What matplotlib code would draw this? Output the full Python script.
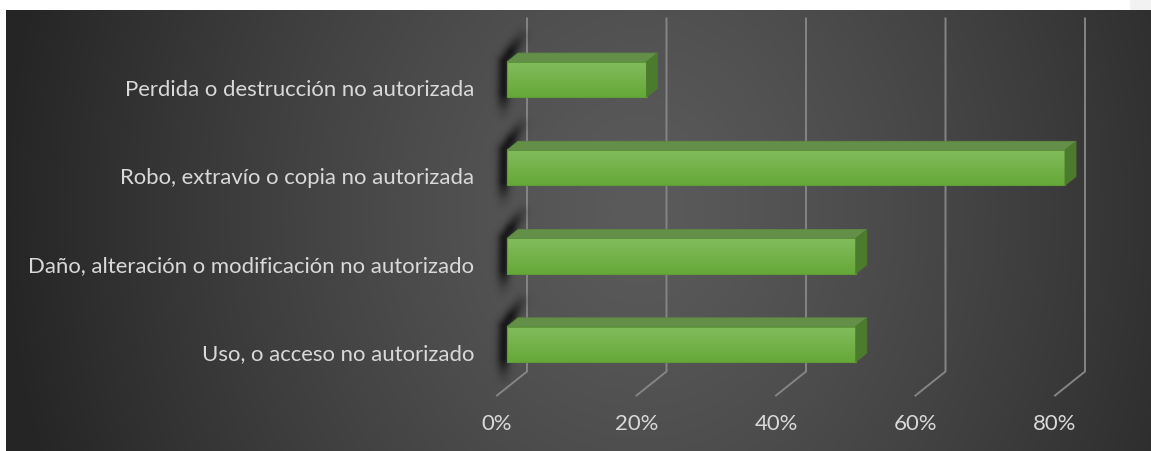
import numpy as np
import matplotlib
matplotlib.use("Agg")
import matplotlib.pyplot as plt
from matplotlib.patches import Polygon
from matplotlib.lines import Line2D
from matplotlib.transforms import IdentityTransform, ScaledTranslation

# ---------------- data ----------------
categories = [
    "Uso, o acceso no autorizado",
    "Daño, alteración o modificación no autorizado",
    "Robo, extravío o copia no autorizada",
    "Perdida o destrucción no autorizada",
]
values = [50, 50, 80, 20]
xticks = [0, 20, 40, 60, 80]
xticklabels = ["0%", "20%", "40%", "60%", "80%"]

# ---------------- layout ----------------
W, H, DPI = 1151, 451, 100
FONT = "Lato"
TEXT_COLOR = "#d9d9d9"
GRID_COLOR = "#858585"
K = 0.8            # perspective slope (display y per display x of depth)
D_BAR0, D_BAR1, D_WALL = 10, 21, 30
BAR_H = 0.4

fig = plt.figure(figsize=(W / DPI, H / DPI), dpi=DPI)
fig.patch.set_facecolor("white")

# background gradient panel
bg = fig.add_axes([0, 0, 1, 1])
bg.set_axis_off()
yy, xx = np.mgrid[0:H, 0:W] + 0.5
cx, cy, rx, ry = 640.0, 210.0, 640.0, 760.0
t = np.clip(np.sqrt(((xx - cx) / rx) ** 2 + ((yy - cy) / ry) ** 2), 0, 1)
v = (91 + (37 - 91) * t ** 1.25) / 255.0
img = np.dstack([v, v, v, np.ones_like(v)])
img[:10, :, :] = 1.0
img[:, :6, :] = 1.0
img[:10, 1130:, :3] = 0.95
bg.imshow(img, extent=[0, W, H, 0], aspect="auto", interpolation="nearest")
bg.set_xlim(0, W)
bg.set_ylim(H, 0)

# main axes (depth-0 plane)
ax_left, ax_right = 497.0, 1055.0
ax_top, ax_bot = 42.5, 395.5
ax = fig.add_axes([ax_left / W, (H - ax_bot) / H, (ax_right - ax_left) / W, (ax_bot - ax_top) / H])
ax.set_xlim(0, 80)
ax.set_ylim(-0.49, 3.51)
ax.set_autoscale_on(False)
ax.patch.set_alpha(0)
for s in ax.spines.values():
    s.set_visible(False)

ax.set_xticks(xticks, xticklabels)
ax.set_yticks(range(len(categories)), categories)
ax.tick_params(axis="both", length=0, colors=TEXT_COLOR)
ax.tick_params(axis="y", pad=23 * 72 / DPI)
ax.tick_params(axis="x", pad=19 * 72 / DPI)
for lab in ax.get_xticklabels() + ax.get_yticklabels():
    lab.set_fontfamily(FONT)
    lab.set_fontsize(16)

# fit font size so the longest label matches the reference width
fig.canvas.draw()
longest = ax.get_yticklabels()[1]
w = longest.get_window_extent().width
fs = 16 * 449.0 / w
for lab in ax.get_xticklabels() + ax.get_yticklabels():
    lab.set_fontsize(fs)
fig.canvas.draw()


def D(x, y, depth):
    p = ax.transData.transform((x, y))
    return (p[0] + depth, p[1] + K * depth)


ymin, ymax = ax.get_ylim()

# gridlines on back wall + floor diagonal
for xt in xticks:
    pts = [D(xt, ymin, 0), D(xt, ymin, D_WALL), D(xt, ymax, D_WALL)]
    ax.add_artist(Line2D([p[0] for p in pts], [p[1] for p in pts], transform=IdentityTransform(),
                         color=GRID_COLOR, lw=1.4, zorder=1, clip_on=False,
                         solid_joinstyle="miter"))

# soft shadows along the left end of each bar (image in display pixels)
PADL, PADT = 25, 40
x0_disp = ax_left - PADL
x1_disp = ax_left + 80
y1_disp = (H - ax_top) + PADT
y0_disp = H - ax_bot
wpx = int(x1_disp - x0_disp)
hpx = int(round(y1_disp - y0_disp))
jj, ii = np.meshgrid(np.arange(wpx) + 0.5, np.arange(hpx) + 0.5)
dx_disp = x0_disp + jj
dy_disp = y1_disp - ii
alpha = np.zeros_like(dx_disp)


def seg_dist(a, b):
    ab = b - a
    px = dx_disp - a[0]
    py = dy_disp - a[1]
    tt = np.clip((px * ab[0] + py * ab[1]) / (ab @ ab), 0, 1)
    return np.sqrt((px - tt * ab[0]) ** 2 + (py - tt * ab[1]) ** 2), tt


for i, val in enumerate(values):
    tl = np.array(D(0, i + BAR_H / 2, D_BAR0))
    bl = np.array(D(0, i - BAR_H / 2, D_BAR0))
    A = tl + np.array([14.0, 25.0])
    B = tl + np.array([-3.0, 0.0])
    C = bl + np.array([-4.0, -15.0])
    d1, t1 = seg_dist(A, B)
    d2, t2 = seg_dist(B, C)
    f1 = 0.3 + 0.7 * np.clip(t1 / 0.6, 0, 1)
    f2 = 0.2 + 0.8 * np.clip((1 - t2) / 0.35, 0, 1)
    a1 = 0.85 * np.exp(-d1 ** 2 / (2 * 4.5 ** 2)) * f1
    a2 = 0.85 * np.exp(-d2 ** 2 / (2 * 4.5 ** 2)) * f2
    alpha = np.maximum(alpha, np.maximum(a1, a2))
shadow = np.zeros((hpx, wpx, 4))
shadow[..., :3] = 0.06
shadow[..., 3] = alpha
inv = ax.transData.inverted()
ex0, ey0 = inv.transform((x0_disp, y0_disp))
ex1, ey1 = inv.transform((x1_disp, y1_disp))
ax.imshow(shadow, extent=[ex0, ex1, ey0, ey1], origin="upper", aspect="auto",
          interpolation="bilinear", zorder=2, clip_on=False)
ax.set_xlim(0, 80)
ax.set_ylim(ymin, ymax)

# bars
front_tr = ax.transData + ScaledTranslation(D_BAR0 / DPI, K * D_BAR0 / DPI, fig.dpi_scale_trans)
bars = ax.barh(range(len(values)), values, height=BAR_H, left=0, color="#72b147",
               edgecolor="none", zorder=3, transform=front_tr)
for b in bars:
    b.set_clip_on(False)
grad = np.linspace(0, 1, 64)[:, None]
top_c = np.array([0x83, 0xbd, 0x5d]) / 255
bot_c = np.array([0x66, 0xa8, 0x38]) / 255
gimg = np.ones((64, 2, 4))
gimg[..., :3] = (top_c[None, None, :] * (1 - grad[..., None]) + bot_c[None, None, :] * grad[..., None])
for i, val in enumerate(values):
    ax.imshow(gimg, extent=[0, val, i - BAR_H / 2, i + BAR_H / 2], origin="upper",
              aspect="auto", interpolation="bilinear", transform=front_tr, zorder=3.1,
              clip_on=False)
    ax.add_patch(plt.Rectangle((0, i - BAR_H / 2), val, BAR_H, transform=front_tr,
                               facecolor="none", edgecolor="#5f9c38", lw=0.8, zorder=3.2,
                               clip_on=False))
    yt = i + BAR_H / 2
    yb = i - BAR_H / 2
    # top face
    ax.add_patch(Polygon([D(0, yt, D_BAR0), D(val, yt, D_BAR0), D(val, yt, D_BAR1), D(0, yt, D_BAR1)],
                         closed=True, transform=IdentityTransform(), facecolor="#648f48",
                         edgecolor="#5e8a42", lw=0.6, zorder=3.3, clip_on=False))
    # right side face
    ax.add_patch(Polygon([D(val, yb, D_BAR0), D(val, yt, D_BAR0), D(val, yt, D_BAR1), D(val, yb, D_BAR1)],
                         closed=True, transform=IdentityTransform(), facecolor="#4b7b2d",
                         edgecolor="#4b7b2d", lw=0.6, zorder=3.3, clip_on=False))

ax.set_xlim(0, 80)
ax.set_ylim(ymin, ymax)
fig.savefig("out.png", dpi=DPI, facecolor=fig.get_facecolor())
